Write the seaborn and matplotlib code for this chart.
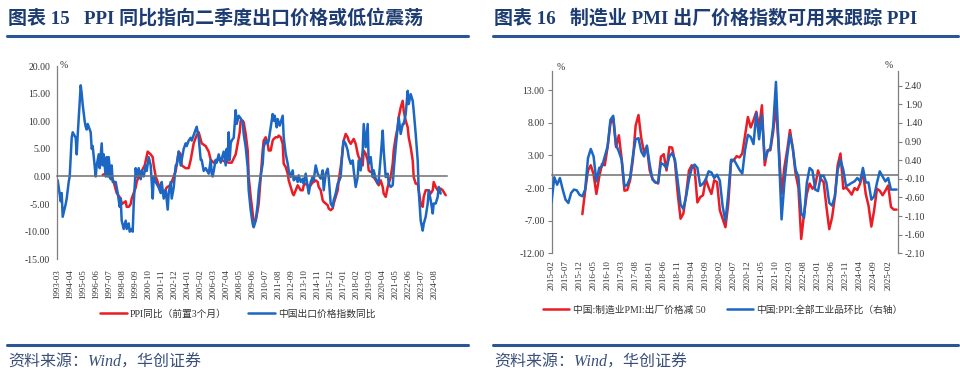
import numpy as np
import pandas as pd
import matplotlib
matplotlib.use("Agg")
import matplotlib.pyplot as plt
import seaborn as sns
from matplotlib.lines import Line2D
from matplotlib.ticker import FormatStrFormatter

# ---------------- data: left panel (figure 15) ----------------
export_dates = [
    "1993-03","1993-06","1993-07","1993-08","1993-11","1993-12",
    "1994-02","1994-03","1994-05","1994-06","1994-09","1994-10","1994-11",
    "1995-02","1995-03","1995-04","1995-06","1995-07","1995-08","1995-09","1995-12",
    "1996-01","1996-02","1996-05","1996-06","1996-08","1996-09","1996-11","1996-12",
    "1997-01","1997-03","1997-04","1997-05","1997-06","1997-08","1997-09","1997-10",
    "1998-01","1998-03","1998-05","1998-06","1998-07","1998-09","1998-11","1998-12",
    "1999-02","1999-03","1999-05","1999-06","1999-07","1999-09","1999-10","1999-12",
    "2000-02","2000-03","2000-05","2000-07","2000-08","2000-10","2000-12",
    "2001-02","2001-03","2001-05","2001-08","2001-10","2001-11",
    "2002-01","2002-03","2002-05","2002-06","2002-08","2002-09","2002-11",
    "2003-01","2003-02","2003-04","2003-06","2003-07","2003-09","2003-11","2003-12",
    "2004-02","2004-04","2004-05","2004-07","2004-10","2004-12",
    "2005-02","2005-03","2005-05","2005-07","2005-10","2005-12",
    "2006-01","2006-02","2006-05","2006-06","2006-08","2006-10",
    "2007-01","2007-03","2007-04","2007-05","2007-06","2007-07","2007-08","2007-09","2007-11",
    "2008-01","2008-02","2008-04","2008-06","2008-08","2008-09","2008-11",
    "2009-01","2009-02","2009-04","2009-06","2009-07","2009-09","2009-11","2009-12",
    "2010-02","2010-04","2010-05","2010-07","2010-09","2010-10","2010-12",
    "2011-02","2011-03","2011-04","2011-06","2011-07","2011-09","2011-12",
    "2012-01","2012-03","2012-05","2012-06","2012-08","2012-10","2012-11",
    "2013-01","2013-03","2013-04","2013-06","2013-08","2013-09","2013-11",
    "2014-01","2014-02","2014-04","2014-06","2014-07","2014-09","2014-11","2014-12",
    "2015-02","2015-04","2015-05","2015-07","2015-09","2015-10","2015-12",
    "2016-02","2016-03","2016-05","2016-07","2016-08","2016-10","2016-12",
    "2017-01","2017-03","2017-05","2017-06","2017-08","2017-10","2017-11",
    "2018-01","2018-03","2018-04","2018-06","2018-08","2018-09","2018-11",
    "2019-01","2019-02","2019-04","2019-06","2019-07","2019-09","2019-11","2019-12",
    "2020-02","2020-04","2020-05","2020-07","2020-09","2020-10","2020-12",
    "2021-02","2021-03","2021-05","2021-07","2021-08","2021-10","2021-12",
    "2022-01","2022-03","2022-05","2022-06","2022-08","2022-10","2022-11",
    "2023-01","2023-03","2023-04","2023-06","2023-08","2023-09","2023-11",
    "2024-01","2024-02","2024-04","2024-06","2024-07","2024-09","2024-11","2024-12",
    "2025-02",
]
export_yoy = [
    -0.7, -4.5, -3, -7.3, -5, -4,
    -1, 0, 7, 8, 7, 4, 7.5,
    16.5, 15, 13, 10, 9, 8.5, 9.5, 8,
    5, 5.5, 0, 2, 4, 1.5, 6, 2,
    4, 0, 3.5, 0, 3.5, -0.5, 2, -1,
    -1, -3, -5.5, -4, -8, -9.5, -8, -9.5,
    -8.5, -10, -9.5, -10, -5, 1.5, 0, 1.5,
    -0.5, 1, 0, 2, 1, 3.5, 2,
    -4, 0, -1, -2, -3, -1,
    -4, -2.5, -6, -3, -1, -4, -2,
    2, 2, 4.5, 2, 3, 5, 6, 5.5,
    6.5, 7, 6.5, 7.5, 9, 7,
    3, 3, 1, 1.5, 0.5, 3,
    0.5, 0, 3, 2.5, 4, 2.5,
    4.5, 2, 5, 3, 8, 3, 6, 6.5, 7,
    12, 9.5, 11, 10.5, 9.8, 7.7, 5.3,
    1.7, -2.5, -6.1, -8.6, -9.2, -8, -5, -2.5,
    0.2, 2.3, 5.3, 6.5, 5.9, 6.5, 8.9,
    11.3, 10.1, 11, 8.9, 10.4, 9.2, 11,
    7.1, 4.1, 2.3, 1.1, -0.1, 1.1, -0.7,
    -0.1, -1, 0.2, -1, -0.4, -1.3, 0.5,
    -1.9, -3.1, -1, -0.1, -0.7, 2, 0.5, 0.2,
    -0.4, 1.1, -2.5, 0.5, 1.4, -0.1, -4.9,
    -5.5, -4.3, -3.1, -1.3, -1, -0.1, 5.3,
    6.5, 5.9, 4.7, 3.5, 2.3, 2.9, 1.1,
    -1.9, -0.1, 2.9, 1.1, 4.7, 9.5, 5.3,
    9.5, 2.3, 3.5, -0.1, 1.1, -0.4, -1.3, -0.7,
    3.5, 8.3, 4.7, -0.1, 0.5, -1.3, -1.9,
    -1.6, 1.1, 5.3, 8.9, 10.7, 7.7, 9.5,
    9.5, 11.3, 15.5, 13.1, 14.9, 13.7, 11.9,
    7.7, 2.9, -2.5, -8, -9.8, -8.6, -7.3,
    -4.9, -2.5, -4.3, -6.7, -4.9, -4.9, -3.7, -1.9,
    -3.1,
]

ppi_lead_dates = [
    "1996-12","1997-03","1997-06","1997-09","1997-11",
    "1998-02","1998-06","1998-07","1998-11","1998-12",
    "1999-02","1999-04","1999-05","1999-07","1999-09","1999-10","1999-12",
    "2000-03","2000-06","2000-09","2000-12",
    "2001-02","2001-03","2001-05","2001-08","2001-11",
    "2002-01","2002-04","2002-08","2002-11",
    "2003-01","2003-04","2003-06","2003-07","2003-11",
    "2004-02","2004-04","2004-05","2004-07","2004-10","2004-12",
    "2005-03","2005-07","2005-10","2005-12",
    "2006-03","2006-06","2006-10",
    "2007-01","2007-06","2007-09",
    "2008-01","2008-03","2008-05","2008-06","2008-08","2008-09","2008-11",
    "2009-01","2009-02","2009-04","2009-06","2009-07","2009-09","2009-11","2009-12",
    "2010-02","2010-04","2010-05","2010-07","2010-09","2010-10","2010-12",
    "2011-02","2011-03","2011-05","2011-07","2011-08","2011-10","2011-12",
    "2012-01","2012-03","2012-05","2012-06","2012-08","2012-10","2012-11",
    "2013-01","2013-03","2013-04","2013-06","2013-08","2013-09","2013-11",
    "2014-01","2014-02","2014-04","2014-06","2014-07","2014-09","2014-11","2014-12",
    "2015-02","2015-04","2015-05","2015-07","2015-09","2015-10","2015-12",
    "2016-02","2016-03","2016-05","2016-07","2016-08","2016-10","2016-12",
    "2017-01","2017-03","2017-05","2017-06","2017-08","2017-10","2017-11",
    "2018-01","2018-03","2018-04","2018-06","2018-08","2018-09","2018-11",
    "2019-01","2019-02","2019-04","2019-06","2019-07","2019-09","2019-11","2019-12",
    "2020-02","2020-04","2020-05","2020-07","2020-09","2020-10","2020-12",
    "2021-02","2021-03","2021-05","2021-07","2021-08","2021-10","2021-12",
    "2022-01","2022-03","2022-05","2022-06","2022-08","2022-10","2022-11",
    "2023-01","2023-03","2023-04","2023-06","2023-08","2023-09","2023-11",
    "2024-01","2024-02","2024-04","2024-06","2024-07","2024-09","2024-11","2024-12",
    "2025-02","2025-04","2025-05","2025-07",
]
ppi_lead_yoy = [
    0.3, 0.5, 0, 0, -1,
    -3, -4, -5, -4.5, -5.5,
    -5.5, -5, -4, -3, -2, -1, 0,
    1, 2, 4.5, 4,
    3.5, 2, 0, -1.5, -2.5,
    -3, -2, -1.5, 0,
    1, 4.5, 4, 2, 1.5,
    1.5, 3, 4, 6, 7.5, 8,
    6, 5.5, 4.5, 3,
    2.5, 3, 3,
    2.8, 2.5, 2.5,
    4, 6, 8, 10.1, 10.1, 9.8, 7.7,
    4.7, -0.1, -3.7, -6.7, -8, -8, -6.1, -4.9,
    -0.1, 4.7, 6.5, 7.1, 5.9, 4.7, 4.7,
    6.5, 6.8, 7.1, 7.1, 7.4, 7.1, 5.9,
    2.3, 1.7, 0.5, -0.7, -1.9, -3.1, -3.4,
    -2.5, -1.6, -1.9, -2.5, -2.5, -1.6, -1.3,
    -1.6, -1.9, -1.6, -1, -1, -0.7, -1, -1.9,
    -2.5, -4.3, -4.6, -4.9, -5.2, -5.8, -6.1,
    -5.8, -4.9, -3.7, -2.5, -0.7, 1.7, 4.7,
    6.5, 7.7, 7.1, 6.5, 5.9, 6.5, 6.8,
    5.9, 4.1, 3.5, 2.9, 2.0, 4.7, 4.1,
    2.9, 1.1, 0.8, 0.8, -0.1, -0.7, -1.3, -1.6,
    -0.7, -1.9, -3.1, -3.7, -1.9, -1.3, -0.1,
    2.3, 4.7, 7.1, 8.9, 10.7, 12.5, 13.7,
    11.9, 10.1, 8.9, 7.1, 5.3, 2.9, -0.1,
    -1.3, -1.3, -2.5, -4.9, -5.5, -3.7, -2.5,
    -2.5, -2.5, -3.1, -2.5, -1.0, -1.9, -2.5, -2.5,
    -2.2, -2.5, -2.8, -3.4,
]
left_tick_labels = ["1993-03","1994-04","1995-05","1996-06","1997-07","1998-08","1999-09",
                    "2000-10","2001-11","2002-12","2004-01","2005-02","2006-03","2007-04",
                    "2008-05","2009-06","2010-07","2011-08","2012-09","2013-10","2014-11",
                    "2015-12","2017-01","2018-02","2019-03","2020-04","2021-05","2022-06",
                    "2023-07","2024-08"]
left_yticks = [-15, -10, -5, 0, 5, 10, 15, 20]

# ---------------- data: right panel (figure 16) ----------------
pmi_start = "2016-01"
pmi_out_minus50 = [
    -6.0, -2.4, 0.7, 1.5, 0.1, -2.9, -0.3, 1.7, 1.5, 4.3, 7.9, 8.7,
    4.3, 6.1, 2.5, -2.4, -2.3, -0.8, 2.3, 7.6, 9.2, 5.6, 3.5, 4.3,
    0.7, -0.6, -1.1, -1.3, 2.8, 3.2, 0.7, 4.3, 4.2, 2.0, -2.9, -6.7,
    -5.9, -2.9, 0.7, 1.5, 1.0, -4.2, -3.4, -3.1, -0.6, -1.9, -2.9, -0.8,
    -1.1, -5.4, -6.7, -8.0, -4.4, 2.0, 2.3, 2.9, 2.7, 3.3, 6.1, 8.9,
    7.3, 8.4, 9.7, 7.3, 10.7, 1.5, 3.8, 3.8, 6.6, 10.7, 4.3, -2.9,
    1.2, 3.8, 6.9, 4.1, 0.2, -1.9, -9.8, -6.0, -2.9, -1.3, -2.1, -1.6,
    0.7, -0.6, -1.1, -4.9, -8.3, -6.5, -3.4, 1.5, 3.3, -2.1, -1.9, -2.4,
    -3.0, -2.0, -2.3, -1.3, 0.5, -2.9, -4.7, -7.9, -5.4, -2.1, -2.4, -3.1,
    -2.4, -1.6, -4.9, -5.3, -5.3,
]
ppi_start = "2015-02"
ppi_mom = [
    -0.73, -0.06, -0.26, -0.08, -0.39, -0.66, -0.75, -0.48, -0.39, -0.41, -0.53, -0.57,
    -0.39, 0.45, 0.70, 0.50, -0.17, 0.19, 0.23, 0.50, 0.77, 1.48, 1.59, 0.81,
    0.63, 0.41, -0.30, -0.26, -0.08, 0.50, 0.96, 0.99, 0.63, 0.50, 0.79, 0.28,
    -0.12, -0.20, -0.20, 0.32, 0.28, 0.19, 0.50, 0.59, 0.41, -0.17, -0.79, -0.91,
    -0.57, -0.12, 0.19, 0.28, 0.19, -0.29, -0.23, -0.12, 0.10, 0.07, -0.08, 0.01,
    -0.15, -0.84, -1.24, -0.50, 0.41, 0.41, 0.28, 0.14, 0.04, 0.68, 1.08, 1.02,
    0.83, 1.66, 0.96, 1.61, 0.41, 0.63, 0.72, 1.30, 2.50, 0.68, -1.19, -0.21,
    0.50, 1.08, 0.72, 0.14, -0.04, -1.02, -1.15, -0.21, 0.19, 0.12, -0.39, -0.43,
    -0.02, -0.02, -0.21, -0.75, -0.82, -0.57, 0.14, 0.41, 0.14, -0.30, -0.26, -0.21,
    -0.17, -0.08, -0.17, 0.19, -0.20, -0.20, -0.66, -0.57, -0.21, 0.10, -0.04, -0.17,
    -0.08, -0.39, -0.39, -0.39,
]
right_tick_labels = ["2015-02","2015-07","2015-12","2016-05","2016-10","2017-03","2017-08",
                     "2018-01","2018-06","2018-11","2019-04","2019-09","2020-02","2020-07",
                     "2020-12","2021-05","2021-10","2022-03","2022-08","2023-01","2023-06",
                     "2023-11","2024-04","2024-09","2025-02"]
right_yticks_left = [-12, -7, -2, 3, 8, 13]
right_yticks_right = [-2.1, -1.6, -1.1, -0.6, -0.1, 0.4, 0.9, 1.4, 1.9, 2.4]

titles = ["图表 15   PPI 同比指向二季度出口价格或低位震荡",
          "图表 16   制造业 PMI 出厂价格指数可用来跟踪 PPI"]
legend_left = ["PPI同比（前置3个月）", "中国出口价格指数同比"]
legend_right = ["中国:制造业PMI:出厂价格减 50", "中国:PPI:全部工业品环比（右轴）"]
source_text = "资料来源：Wind，华创证券"

assert len(export_dates) == len(export_yoy)
assert len(ppi_lead_dates) == len(ppi_lead_yoy)

# ---------------- style ----------------
sns.set_style("white")
plt.rcParams['font.family'] = ['Liberation Serif', 'Noto Sans CJK SC', 'DejaVu Sans']
plt.rcParams['axes.unicode_minus'] = False

RED = "#ea1c24"
BLUE = "#1b67c3"
NAVY = "#1d3c72"
GRAY = "#7f7f7f"
TXT = "#333333"
W, H = 960, 380


def month_idx(dates, start):
    d = pd.to_datetime(pd.Series(dates), format="%Y-%m")
    s = pd.Timestamp(start)
    return ((d.dt.year - s.year) * 12 + (d.dt.month - s.month)).to_numpy()


def px_axes(x0, y_top, x1, y_bot):
    return [x0 / W, 1 - y_bot / H, (x1 - x0) / W, (y_bot - y_top) / H]


fig = plt.figure(figsize=(9.6, 3.8), dpi=100)


def style_axis(ax, xticks, xlabels, pad):
    for s in ("top", "right"):
        ax.spines[s].set_visible(False)
    ax.spines["left"].set_color(GRAY)
    ax.spines["left"].set_linewidth(0.9)
    ax.spines["bottom"].set_position(("data", 0))
    ax.spines["bottom"].set_color("#6f6f6f")
    ax.spines["bottom"].set_linewidth(1.1)
    ax.set_xticks(xticks)
    ax.tick_params(axis="x", direction="out", length=3, width=0.8, color=GRAY,
                   labelbottom=False)
    ax.tick_params(axis="y", direction="out", length=3, width=0.8, color=GRAY,
                   labelsize=7, labelcolor=TXT, pad=2)
    ax.yaxis.set_major_formatter(FormatStrFormatter("%.2f"))
    ax.set_xlabel("")
    ax.set_ylabel("")
    sec = ax.secondary_xaxis(0.0)
    sec.set_xticks(xticks)
    sec.set_xticklabels(xlabels, rotation=90, fontsize=6.5, color=TXT)
    sec.tick_params(length=0, pad=pad)
    sec.spines["bottom"].set_visible(False)


# ---------------- left panel ----------------
axL = fig.add_axes(px_axes(57.2, 66, 447.2, 259.3))
dfL_red = pd.DataFrame({"x": month_idx(ppi_lead_dates, "1993-03"), "y": ppi_lead_yoy})
dfL_blue = pd.DataFrame({"x": month_idx(export_dates, "1993-03"), "y": export_yoy})
sns.lineplot(data=dfL_red, x="x", y="y", ax=axL, color=RED, lw=1.8, legend=False)
sns.lineplot(data=dfL_blue, x="x", y="y", ax=axL, color=BLUE, lw=1.8, legend=False)
axL.set_xlim(-0.5, 389.5)
axL.set_ylim(-15, 20)
axL.set_yticks(left_yticks)
style_axis(axL, month_idx(left_tick_labels, "1993-03"), left_tick_labels, 7)

# ---------------- right panel ----------------
axR = fig.add_axes(px_axes(551.5, 70.7, 898, 253.3))
axR2 = axR.twinx()
dfR_red = pd.DataFrame({"x": month_idx(pd.date_range(pmi_start, periods=len(pmi_out_minus50), freq="MS").strftime("%Y-%m"), ppi_start),
                        "y": pmi_out_minus50})
dfR_blue = pd.DataFrame({"x": month_idx(pd.date_range(ppi_start, periods=len(ppi_mom), freq="MS").strftime("%Y-%m"), ppi_start),
                         "y": ppi_mom})
sns.lineplot(data=dfR_red, x="x", y="y", ax=axR, color=RED, lw=1.8, legend=False)
sns.lineplot(data=dfR_blue, x="x", y="y", ax=axR2, color=BLUE, lw=1.8, legend=False)
axR.set_xlim(0, 123.5)
axR.set_ylim(-12, 16)
axR.set_yticks(right_yticks_left)
style_axis(axR, month_idx(right_tick_labels, ppi_start), right_tick_labels, 5)
axR2.set_ylim(-2.1, 2.8)
axR2.set_yticks(right_yticks_right)
axR2.yaxis.set_major_formatter(FormatStrFormatter("%.2f"))
for s in ("top", "left", "bottom"):
    axR2.spines[s].set_visible(False)
axR2.spines["right"].set_color(GRAY)
axR2.spines["right"].set_linewidth(0.9)
axR2.tick_params(axis="y", direction="out", length=3, width=0.8, color=GRAY,
                 labelsize=7, labelcolor=TXT, pad=2)
axR2.set_ylabel("")

# percent units
fig.text(60 / W, 1 - 66 / H, "%", fontsize=7, color=TXT, va="center", ha="left")
fig.text(557 / W, 1 - 68 / H, "%", fontsize=7, color=TXT, va="center", ha="left")
fig.text(893 / W, 1 - 66 / H, "%", fontsize=7, color=TXT, va="center", ha="right")

# legends
def add_legend(labels, center_x, y):
    handles = [Line2D([], [], color=RED, lw=1.8), Line2D([], [], color=BLUE, lw=1.8)]
    fig.legend(handles, labels, loc="center", bbox_to_anchor=(center_x / W, 1 - y / H),
               ncol=2, frameon=False, fontsize=7, handlelength=2.7,
               handletextpad=0.35, columnspacing=2.2, labelcolor=TXT)

add_legend(legend_left, 238, 314)
add_legend(legend_right, 723, 310)

# titles, rules, sources
for x0, x1, title in ((7, 468, titles[0]), (493, 958, titles[1])):
    fig.text(x0 / W + 1 / W, 1 - 18 / H, title, fontsize=13.7, fontweight="bold",
             color=NAVY, va="center", ha="left")
    fig.add_artist(Line2D([x0 / W, x1 / W], [1 - 36 / H, 1 - 36 / H],
                          color="#2a5696", lw=2.2, transform=fig.transFigure))
    fig.add_artist(Line2D([x0 / W, x1 / W], [1 - 345 / H, 1 - 345 / H],
                          color="#2a5696", lw=2.2, transform=fig.transFigure))
    fig.text(x0 / W + 1 / W, 1 - 363 / H, source_text, fontsize=11.5, style="italic",
             color="#3a4f78", va="center", ha="left")

fig.savefig("out.png", dpi=100)
